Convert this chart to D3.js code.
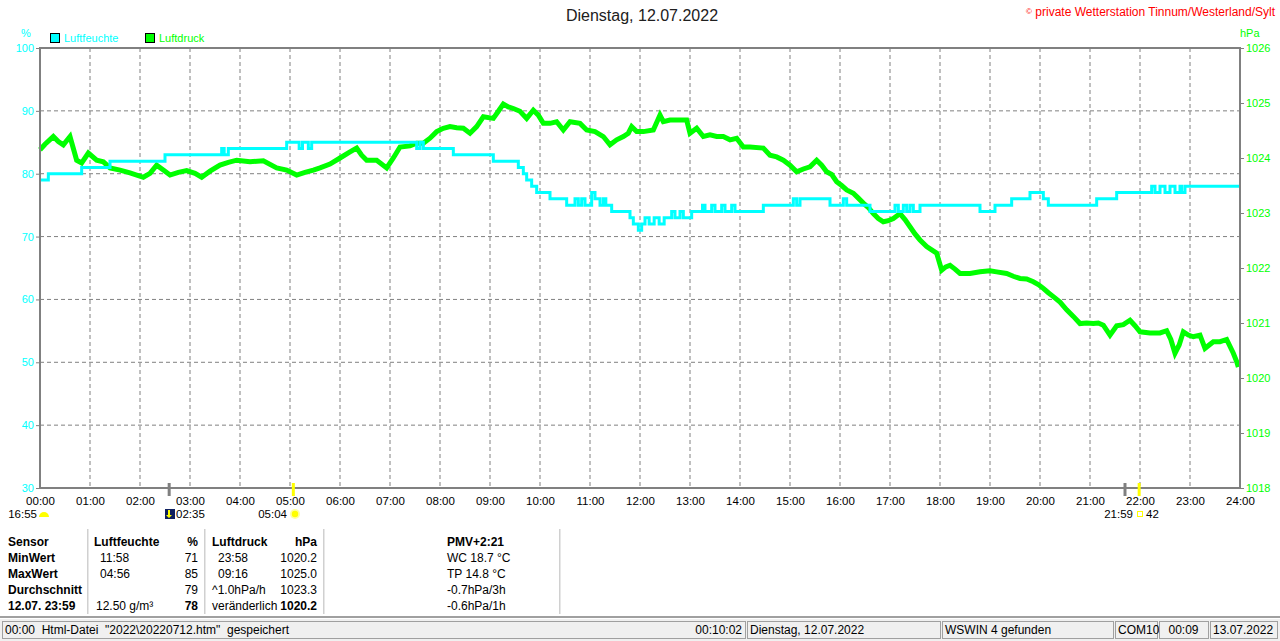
<!DOCTYPE html>
<html>
<head>
<meta charset="utf-8">
<script src="https://cdn.jsdelivr.net/npm/d3@7"></script>
<style>
  body { margin: 0; background: #fff; }
  svg { display: block; font-family: "Liberation Sans", Arial, sans-serif; }
</style>
</head>
<body>
<svg id="chart" width="1280" height="641"></svg>
<script>
// humidity steps: [minute of day, %]
const humSteps = [
  [0, 79], [10, 80], [50, 81], [84, 82], [150, 83], [218, 84], [221, 83], [226, 84],
  [296, 85], [311, 84], [315, 85], [322, 84], [326, 85], [452, 84], [456, 85], [460, 84],
  [496, 83], [544, 82], [574, 81], [580, 80], [584, 79], [590, 78], [596, 77], [612, 76],
  [632, 75], [642, 76], [646, 75], [650, 76], [654, 75], [662, 77], [666, 76], [672, 75],
  [676, 76], [679, 75], [686, 74], [708, 73], [712, 72], [718, 71], [722, 72], [726, 73],
  [731, 72], [737, 73], [743, 72], [749, 73], [758, 74], [762, 73], [768, 74], [772, 73],
  [782, 74], [795, 75], [798, 74], [806, 75], [810, 74], [818, 75], [822, 74], [830, 75],
  [834, 74], [868, 75], [904, 76], [908, 75], [912, 76], [948, 75], [964, 76], [968, 75],
  [996, 74], [1026, 75], [1030, 74], [1036, 75], [1040, 74], [1044, 75], [1048, 74],
  [1056, 75], [1128, 74], [1146, 75], [1166, 76], [1188, 77], [1204, 76], [1210, 75],
  [1268, 76], [1292, 77], [1334, 78], [1338, 77], [1344, 78], [1350, 77], [1356, 78],
  [1362, 77], [1368, 78], [1370, 77], [1374, 78], [1440, 78]
];

// pressure readings: [minute of day, hPa]
const pressureReadings = [
  [0, 1024.15], [6, 1024.25], [16, 1024.39], [22, 1024.30], [28, 1024.24], [36, 1024.39],
  [44, 1023.96], [50, 1023.91], [58, 1024.09], [68, 1023.96], [76, 1023.93], [84, 1023.82],
  [96, 1023.78], [108, 1023.73], [124, 1023.65], [132, 1023.72], [140, 1023.87], [148, 1023.78],
  [156, 1023.69], [166, 1023.74], [176, 1023.77], [186, 1023.72], [194, 1023.65], [204, 1023.76],
  [216, 1023.87], [226, 1023.92], [236, 1023.96], [252, 1023.93], [268, 1023.95], [284, 1023.82],
  [296, 1023.78], [308, 1023.69], [318, 1023.74], [328, 1023.78], [336, 1023.82], [348, 1023.89],
  [360, 1024.00], [372, 1024.11], [380, 1024.18], [386, 1024.05], [392, 1023.96], [404, 1023.96],
  [416, 1023.82], [424, 1024.00], [432, 1024.20], [444, 1024.22], [452, 1024.27], [460, 1024.27],
  [468, 1024.36], [476, 1024.48], [484, 1024.54], [492, 1024.57], [500, 1024.55], [508, 1024.54],
  [516, 1024.45], [524, 1024.57], [532, 1024.75], [544, 1024.72], [550, 1024.85], [556, 1024.98],
  [562, 1024.93], [568, 1024.90], [576, 1024.85], [584, 1024.72], [592, 1024.87], [598, 1024.78],
  [604, 1024.63], [612, 1024.63], [620, 1024.66], [628, 1024.51], [636, 1024.66], [648, 1024.63],
  [656, 1024.51], [666, 1024.48], [676, 1024.39], [684, 1024.24], [692, 1024.33], [700, 1024.39],
  [706, 1024.45], [710, 1024.57], [716, 1024.48], [724, 1024.48], [736, 1024.51], [744, 1024.78],
  [748, 1024.66], [756, 1024.69], [764, 1024.69], [776, 1024.69], [780, 1024.45], [788, 1024.54],
  [796, 1024.39], [804, 1024.42], [812, 1024.39], [820, 1024.39], [828, 1024.33], [836, 1024.36],
  [844, 1024.20], [852, 1024.20], [868, 1024.18], [876, 1024.05], [884, 1024.02], [892, 1023.96],
  [900, 1023.87], [908, 1023.75], [916, 1023.80], [924, 1023.84], [932, 1023.96], [938, 1023.87],
  [944, 1023.75], [950, 1023.70], [956, 1023.57], [962, 1023.50], [968, 1023.42], [976, 1023.36],
  [982, 1023.27], [988, 1023.18], [994, 1023.10], [1000, 1022.99], [1006, 1022.90], [1012, 1022.84],
  [1018, 1022.86], [1024, 1022.90], [1032, 1022.99], [1038, 1022.88], [1044, 1022.75], [1050, 1022.62],
  [1056, 1022.51], [1064, 1022.39], [1070, 1022.33], [1076, 1022.27], [1082, 1021.96], [1087, 1022.02],
  [1092, 1022.05], [1098, 1021.98], [1104, 1021.90], [1116, 1021.90], [1128, 1021.93], [1140, 1021.95],
  [1148, 1021.93], [1160, 1021.90], [1168, 1021.85], [1176, 1021.81], [1184, 1021.80], [1192, 1021.75],
  [1198, 1021.70], [1204, 1021.63], [1210, 1021.55], [1216, 1021.48], [1224, 1021.38], [1232, 1021.24],
  [1240, 1021.12], [1248, 1020.99], [1256, 1021.00], [1264, 1020.99], [1270, 1021.00], [1276, 1020.96],
  [1284, 1020.78], [1292, 1020.95], [1300, 1020.97], [1308, 1021.05], [1314, 1020.95], [1320, 1020.84],
  [1332, 1020.82], [1344, 1020.82], [1352, 1020.86], [1357, 1020.70], [1362, 1020.45], [1367, 1020.60],
  [1372, 1020.84], [1378, 1020.78], [1384, 1020.75], [1392, 1020.78], [1398, 1020.54], [1408, 1020.66],
  [1416, 1020.66], [1424, 1020.70], [1432, 1020.45], [1436, 1020.30], [1438, 1020.20]
];

const humTicks = [30, 40, 50, 60, 70, 80, 90, 100];
const pressTicks = [1018, 1019, 1020, 1021, 1022, 1023, 1024, 1025, 1026];
const hourTicks = d3.range(0, 25);

// sun / moon events on the time axis: [minute, type]
const astroEvents = [[155, "moon"], [304, "sun"], [1302, "moon"], [1319, "sun"]];

const tableRows = [
  ["Sensor", "Luftfeuchte", "%", "Luftdruck", "hPa"],
  ["MinWert", "11:58", "71", "23:58", "1020.2"],
  ["MaxWert", "04:56", "85", "09:16", "1025.0"],
  ["Durchschnitt", "", "79", "^1.0hPa/h", "1023.3"],
  ["12.07. 23:59", "12.50 g/m³", "78", "veränderlich", "1020.2"]
];
const extraLines = ["PMV+2:21", "WC 18.7 °C", "TP 14.8 °C", "-0.7hPa/3h", "-0.6hPa/1h"];

const statusPanels = [
  { x0: 2, x1: 745, text: "00:00  Html-Datei  \"2022\\20220712.htm\"  gespeichert", right: "00:10:02" },
  { x0: 747, x1: 940, text: "Dienstag, 12.07.2022" },
  { x0: 942, x1: 1113, text: "WSWIN 4 gefunden" },
  { x0: 1115, x1: 1157, text: "COM10" },
  { x0: 1159, x1: 1208, text: "00:09", center: true },
  { x0: 1210, x1: 1277, text: "13.07.2022" }
];

const CYAN = "#00ffff", GREEN = "#00ff00", GRID = "#808080";

const svg = d3.select("#chart");
const margin = { top: 48, right: 40, bottom: 153, left: 40 };
const W = 1280, H = 641;

const x = d3.scaleLinear().domain([0, 1440]).range([margin.left, W - margin.right]);
const yH = d3.scaleLinear().domain([30, 100]).range([H - margin.bottom, margin.top]);
const yP = d3.scaleLinear().domain([1018, 1026]).range([H - margin.bottom, margin.top]);

// grid
svg.append("g").selectAll("line.v")
  .data(hourTicks.slice(1, -1))
  .join("line")
  .attr("x1", d => x(d * 60)).attr("x2", d => x(d * 60))
  .attr("y1", yH(100)).attr("y2", yH(30))
  .attr("stroke", GRID).attr("stroke-dasharray", "4,3");

svg.append("g").selectAll("line.h")
  .data(humTicks.slice(1, -1))
  .join("line")
  .attr("x1", x(0)).attr("x2", x(1440))
  .attr("y1", d => yH(d)).attr("y2", d => yH(d))
  .attr("stroke", GRID).attr("stroke-dasharray", "4,3");

// series
svg.append("path")
  .datum(pressureReadings)
  .attr("fill", "none").attr("stroke", GREEN).attr("stroke-width", 5)
  .attr("stroke-linejoin", "miter")
  .attr("d", d3.line().x(d => x(d[0])).y(d => yP(d[1])));

svg.append("path")
  .datum(humSteps)
  .attr("fill", "none").attr("stroke", CYAN).attr("stroke-width", 3)
  .attr("d", d3.line().curve(d3.curveStepAfter).x(d => x(d[0])).y(d => yH(d[1])));

// frame
svg.append("rect")
  .attr("x", x(0)).attr("y", yH(100))
  .attr("width", x(1440) - x(0)).attr("height", yH(30) - yH(100))
  .attr("fill", "none").attr("stroke", GRID).attr("stroke-width", 2);

// left axis
const leftAxis = svg.append("g")
  .attr("transform", `translate(${x(0)},0)`)
  .call(d3.axisLeft(yH).tickValues(humTicks).tickSize(4).tickPadding(2));
leftAxis.select(".domain").remove();
leftAxis.selectAll("line").attr("stroke", GRID);
leftAxis.selectAll("text").attr("fill", CYAN).style("font-size", "11px").style("font-family", "Liberation Sans, Arial");

// right axis
const rightAxis = svg.append("g")
  .attr("transform", `translate(${x(1440)},0)`)
  .call(d3.axisRight(yP).tickValues(pressTicks).tickFormat(d3.format("d")).tickSize(4).tickPadding(2));
rightAxis.select(".domain").remove();
rightAxis.selectAll("line").attr("stroke", GRID);
rightAxis.selectAll("text").attr("fill", GREEN).style("font-size", "11px").style("font-family", "Liberation Sans, Arial");

// bottom axis
const bottomAxis = svg.append("g")
  .attr("transform", `translate(0,${yH(30)})`)
  .call(d3.axisBottom(x).tickValues(hourTicks.map(h => h * 60)).tickSize(0).tickPadding(9)
    .tickFormat(d => String(d / 60).padStart(2, "0") + ":00"));
bottomAxis.select(".domain").remove();
bottomAxis.selectAll("text").attr("fill", "#000").style("font-size", "11.5px").style("font-family", "Liberation Sans, Arial");

// astro markers on axis
svg.append("g").selectAll("line")
  .data(astroEvents)
  .join("line")
  .attr("x1", d => x(d[0])).attr("x2", d => x(d[0]))
  .attr("y1", yH(30) - 5).attr("y2", yH(30) + 8)
  .attr("stroke", d => d[1] === "sun" ? "#ffff00" : GRID)
  .attr("stroke-width", 3);

// astro labels below axis
const lbl = svg.append("g").style("font-size", "11.5px").attr("fill", "#000");
lbl.append("text").attr("x", 37).attr("y", 518).attr("text-anchor", "end").text("16:55");
lbl.append("path").attr("d", "M39,517 a5,5 0 0 1 10,0 z").attr("fill", "#ffff00");
lbl.append("rect").attr("x", 165).attr("y", 509).attr("width", 10).attr("height", 10).attr("fill", "#102060");
lbl.append("path").attr("d", "M168,510 l0,5 l-2,0 l3,3 l3,-3 l-2,0 l0,-5 z").attr("fill", "#ffff00");
lbl.append("text").attr("x", 176).attr("y", 518).text("02:35");
lbl.append("text").attr("x", 287).attr("y", 518).attr("text-anchor", "end").text("05:04");
lbl.append("circle").attr("cx", 295).attr("cy", 514).attr("r", 5).attr("fill", "#ffffa0");
lbl.append("circle").attr("cx", 295).attr("cy", 514).attr("r", 3.2).attr("fill", "#ffff00");
lbl.append("text").attr("x", 1133).attr("y", 518).attr("text-anchor", "end").text("21:59");
lbl.append("rect").attr("x", 1137.5).attr("y", 511.5).attr("width", 5).attr("height", 5)
  .attr("fill", "none").attr("stroke", "#ffff00");
lbl.append("text").attr("x", 1146).attr("y", 518).text("42");

// titles
svg.append("text").attr("x", 642).attr("y", 21).attr("text-anchor", "middle")
  .style("font-size", "16px").attr("fill", "#202020").text("Dienstag, 12.07.2022");
const copy = svg.append("text").attr("x", 1275).attr("y", 16).attr("text-anchor", "end")
  .style("font-size", "12px").attr("fill", "#ff0000");
copy.append("tspan").style("font-size", "8px").attr("dy", "-2").text("©");
copy.append("tspan").attr("dy", "2").text(" private Wetterstation Tinnum/Westerland/Sylt");

svg.append("text").attr("x", 26).attr("y", 37).attr("text-anchor", "middle")
  .style("font-size", "11px").attr("fill", CYAN).text("%");
svg.append("text").attr("x", 1240).attr("y", 37)
  .style("font-size", "11px").attr("fill", GREEN).text("hPa");

// legend
const legend = [["Luftfeuchte", CYAN, 50], ["Luftdruck", GREEN, 145]];
legend.forEach(([name, col, lx]) => {
  svg.append("rect").attr("x", lx + 0.5).attr("y", 33.5).attr("width", 9).attr("height", 9)
    .attr("fill", col).attr("stroke", "#000");
  svg.append("text").attr("x", lx + 14).attr("y", 42).style("font-size", "11px")
    .attr("fill", col).text(name);
});

// table
const tbl = svg.append("g").style("font-size", "12px").attr("fill", "#000");
[88, 205, 324, 560].forEach(sx => {
  tbl.append("line").attr("x1", sx).attr("x2", sx).attr("y1", 529).attr("y2", 614).attr("stroke", "#a0a0a0");
  tbl.append("line").attr("x1", sx + 1).attr("x2", sx + 1).attr("y1", 529).attr("y2", 614).attr("stroke", "#ffffff");
});
const colX = [
  { x: 8, anchor: "start" },
  { x: 100, anchor: "start" },
  { x: 198, anchor: "end" },
  { x: 218, anchor: "start" },
  { x: 317, anchor: "end" }
];
tableRows.forEach((row, ri) => {
  const yy = 546 + ri * 16;
  row.forEach((cell, ci) => {
    let cx = colX[ci].x;
    if (ri === 0 && (ci === 1)) cx = 94;
    if (ri === 0 && ci === 3) cx = 212;
    if (ri === 3 && ci === 3) cx = 212;
    if (ri === 4 && ci === 1) cx = 96;
    if (ri === 4 && ci === 3) cx = 212;
    const bold = ri === 0 || ci === 0 || (ri === 4 && (ci === 2 || ci === 4));
    tbl.append("text").attr("x", cx).attr("y", yy).attr("text-anchor", colX[ci].anchor)
      .style("font-weight", bold ? "bold" : "normal").text(cell);
  });
});
extraLines.forEach((t, i) => {
  tbl.append("text").attr("x", 447).attr("y", 546 + i * 16)
    .style("font-weight", i === 0 ? "bold" : "normal").text(t);
});

// status bar
svg.append("line").attr("x1", 0).attr("x2", W).attr("y1", 617).attr("y2", 617).attr("stroke", "#a0a0a0").attr("stroke-width", 2);
svg.append("rect").attr("x", 0).attr("y", 619).attr("width", W).attr("height", 22).attr("fill", "#f0f0f0");
const sb = svg.append("g").style("font-size", "12px").attr("fill", "#000");
statusPanels.forEach(p => {
  sb.append("rect").attr("x", p.x0 + 0.5).attr("y", 621.5).attr("width", p.x1 - p.x0).attr("height", 17)
    .attr("fill", "none").attr("stroke", "#a0a0a0");
  if (p.center) {
    sb.append("text").attr("x", (p.x0 + p.x1) / 2).attr("y", 634).attr("text-anchor", "middle").text(p.text);
  } else {
    sb.append("text").attr("x", p.x0 + 3).attr("y", 634).style("white-space", "pre").attr("xml:space", "preserve").text(p.text);
  }
  if (p.right) {
    sb.append("text").attr("x", p.x1 - 3).attr("y", 634).attr("text-anchor", "end").text(p.right);
  }
});
</script>
</body>
</html>
